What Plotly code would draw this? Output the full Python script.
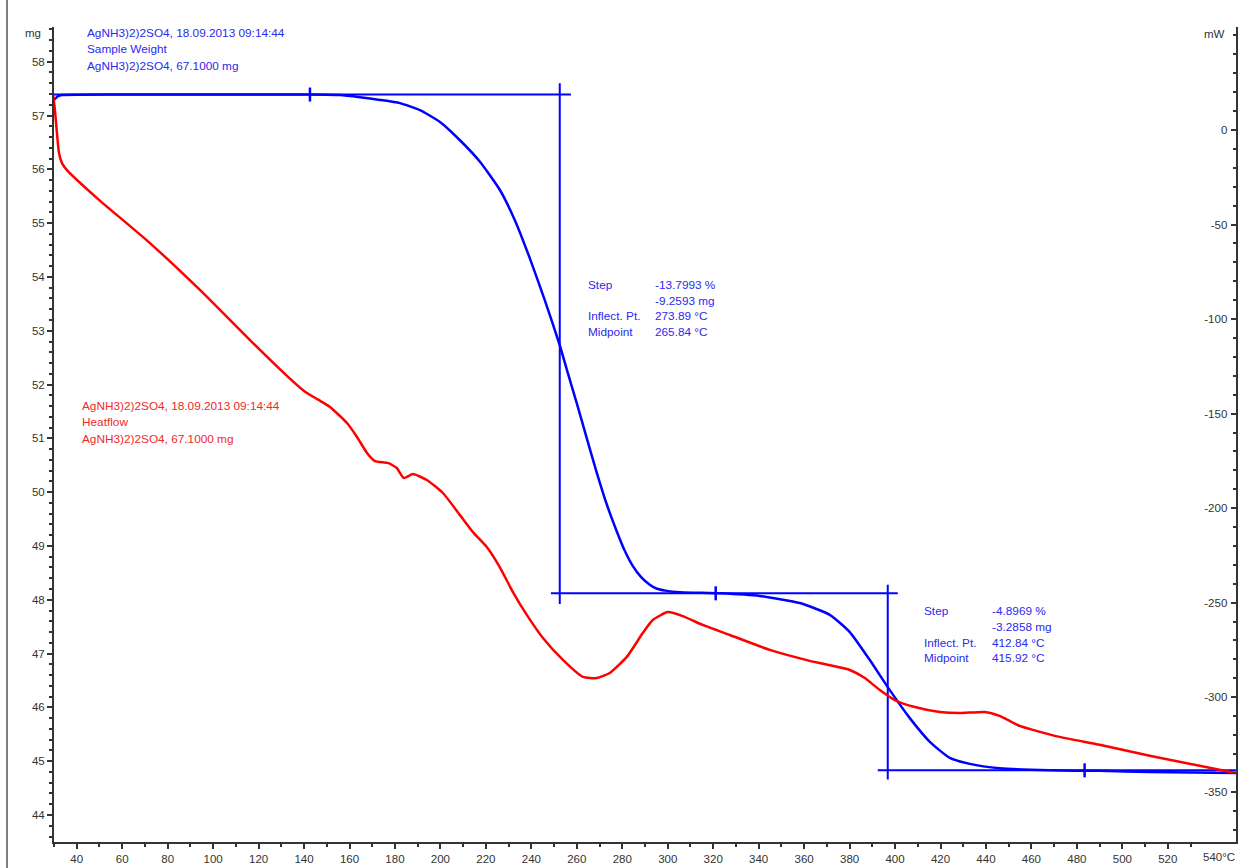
import plotly.graph_objects as go

# ---------------- data ----------------
# Sample weight (TGA), mg vs temperature °C
tg_temp = [30.0, 31.8, 33.5, 60, 100, 142.6, 155.8, 164.6, 173.4, 182.2, 191.0, 199.8, 208.6,
           217.4, 226.1, 232.7, 239.3, 245.9, 252.5, 256.0, 260.0, 264.4, 268.8, 273.2, 277.6,
           281.0, 284.6, 288.3, 292.1, 295.0, 299.0, 305.3, 322.9, 340.5, 358.1, 371.3, 380.1,
           388.9, 397.7, 406.5, 415.3, 424.1, 432.9, 446.0, 468.0, 490.0, 512.0, 549.8]
tg_mass = [57.29, 57.36, 57.38, 57.39, 57.39, 57.39, 57.38, 57.34, 57.29, 57.23, 57.10, 56.88, 56.54,
           56.14, 55.62, 55.06, 54.35, 53.57, 52.73, 52.22, 51.65, 51.00, 50.36, 49.77, 49.27,
           48.92, 48.63, 48.42, 48.28, 48.21, 48.17, 48.14, 48.12, 48.07, 47.94, 47.72, 47.40,
           46.88, 46.32, 45.80, 45.36, 45.06, 44.95, 44.87, 44.83, 44.82, 44.80, 44.78]

# Heat flow (DSC), mW vs temperature °C
hf_temp = [29.6, 30.4, 31.3, 32.2, 33.5, 35.7, 48.9, 72.2, 94.2, 116.2, 132.0, 140.0, 146.0, 151.4, 158.9,
           163.3, 167.7, 171.2, 176.9, 180.8, 183.9, 187.9, 194.0, 201.1, 208.6, 214.3,
           220.4, 226.1, 231.9, 238.0, 245.1, 253.9, 262.7, 268.8, 274.5, 282.0, 289.0,
           293.4, 300.0, 306.6, 315.4, 327.3, 344.9, 362.5, 380.1, 386.7, 393.3, 399.9,
           408.7, 419.7, 428.5, 439.4, 446.0, 454.8, 472.4, 490.0, 512.0, 534.0, 549.8]
hf_mw = [18.5, 10.6, -1.6, -12.2, -17.5, -21.2, -36.0, -59.8, -84.6, -111.1, -129.5, -138.0, -142.5, -146.5, -155.0,
         -162.4, -170.8, -175.1, -176.1, -178.8, -184.1, -182.0, -185.1, -192.0, -203.7, -212.7,
         -220.6, -231.2, -244.4, -256.5, -268.7, -280.3, -289.3, -289.9, -287.2, -278.7, -266.1,
         -259.2, -255.0, -257.1, -261.8, -267.1, -275.0, -280.8, -285.6, -289.9, -296.2, -301.5,
         -305.2, -307.8, -308.4, -307.8, -309.9, -315.2, -321.0, -325.2, -331.0, -336.3, -340.1]

# Step evaluation (levels in mg, positions in °C)
step_levels = [57.39, 48.12, 44.83]
step_pos = [252.5, 396.8]
step_hline_from = [30.0, 248.6, 392.4]
step_hline_to = [257.4, 401.2, 550.0]
step_vline_top = [57.60, 48.28]
step_vline_bottom = [47.92, 44.66]
marker_temps = [142.6, 321.1, 483.4]

step1_labels = ["Step", "", "Inflect. Pt.", "Midpoint"]
step1_values = ["-13.7993 %", "-9.2593 mg", "273.89 °C", "265.84 °C"]
step2_labels = ["Step", "", "Inflect. Pt.", "Midpoint"]
step2_values = ["-4.8969 %", "-3.2858 mg", "412.84 °C", "415.92 °C"]

blue_header = ["AgNH3)2)2SO4, 18.09.2013 09:14:44", "Sample Weight", "AgNH3)2)2SO4, 67.1000 mg"]
red_header = ["AgNH3)2)2SO4, 18.09.2013 09:14:44", "Heatflow", "AgNH3)2)2SO4, 67.1000 mg"]

x_tickvals = list(range(40, 541, 20))
x_ticktext = [str(v) for v in x_tickvals[:-1]] + [""]
x_last_label = "540°C"
left_tickvals = list(range(44, 59))
right_tickvals = [0, -50, -100, -150, -200, -250, -300, -350]
right_ticktext = [str(v) for v in right_tickvals]

BLUE = "#0000FF"
RED = "#FF0000"
TXT_BLUE = "#2A2AF0"
TXT_RED = "#F02A2A"
FONT = "Liberation Sans"
TXT_SIZE = 11.8

# ---------------- layout geometry (pixels) ----------------
W, H = 1248, 868
L, R, T, B = 54, 12, 27, 26
PW, PH = W - L - R, H - T - B


def px(x):
    return (x - L) / PW


def py(y):
    return (H - B - y) / PH


fig = go.Figure()

fig.add_trace(go.Scatter(x=hf_temp, y=hf_mw, mode="lines", yaxis="y2",
                         line=dict(color=RED, width=2.5, shape="spline", smoothing=0.5),
                         hoverinfo="skip", showlegend=False))
fig.add_trace(go.Scatter(x=tg_temp, y=tg_mass, mode="lines",
                         line=dict(color=BLUE, width=2.5, shape="spline", smoothing=0.5),
                         hoverinfo="skip", showlegend=False))

for lvl, a, b in zip(step_levels, step_hline_from, step_hline_to):
    fig.add_trace(go.Scatter(x=[a, b], y=[lvl, lvl], mode="lines",
                             line=dict(color=BLUE, width=2), hoverinfo="skip", showlegend=False))
for xp, top, bot in zip(step_pos, step_vline_top, step_vline_bottom):
    fig.add_trace(go.Scatter(x=[xp, xp], y=[top, bot], mode="lines",
                             line=dict(color=BLUE, width=2), hoverinfo="skip", showlegend=False))
fig.add_trace(go.Scatter(x=marker_temps, y=step_levels, mode="markers",
                         marker=dict(symbol="line-ns-open", size=10, color=BLUE,
                                     line=dict(color=BLUE, width=2.5)),
                         hoverinfo="skip", showlegend=False))

anns = []


def add_text(x, y, text, color, anchor="left", size=TXT_SIZE):
    anns.append(dict(x=px(x), y=py(y), xref="paper", yref="paper", text=text,
                     showarrow=False, xanchor=anchor, yanchor="middle",
                     font=dict(family=FONT, size=size, color=color)))


for i, t in enumerate(blue_header):
    add_text(85, [33, 49, 66][i], t, TXT_BLUE)
for i, t in enumerate(red_header):
    add_text(80, [406, 422, 439][i], t, TXT_RED)
for i, (lab, val) in enumerate(zip(step1_labels, step1_values)):
    yy = [285, 301, 316, 332][i]
    if lab:
        add_text(586, yy, lab, TXT_BLUE)
    add_text(653, yy, val, TXT_BLUE)
for i, (lab, val) in enumerate(zip(step2_labels, step2_values)):
    yy = [611, 627, 643, 658][i]
    if lab:
        add_text(922, yy, lab, TXT_BLUE)
    add_text(990, yy, val, TXT_BLUE)

add_text(33, 33, "mg", "#333333", anchor="center", size=11.5)
add_text(1214, 34, "mW", "#333333", anchor="center", size=11.5)
# last x tick label (plotly hides it next to the inside right-axis labels)
anns.append(dict(x=x_tickvals[-1], y=py(857), xref="x", yref="paper", text=x_last_label,
                 showarrow=False, xanchor="center", xshift=6, yanchor="middle",
                 font=dict(family=FONT, size=11.5, color="#333333")))

axis_font = dict(family=FONT, size=11.5, color="#333333")

fig.update_layout(
    width=W, height=H,
    margin=dict(l=L, r=R, t=T, b=B, pad=0, autoexpand=False),
    paper_bgcolor="white", plot_bgcolor="white",
    showlegend=False,
    annotations=anns,
    shapes=[dict(type="line", xref="paper", yref="paper", x0=px(7), x1=px(7),
                 y0=py(0), y1=py(H), line=dict(color="#555555", width=1.5))],
    xaxis=dict(range=[30, 550], tickvals=x_tickvals, ticktext=x_ticktext, automargin=False,
               showgrid=False, zeroline=False, showline=True, linecolor="#333333",
               linewidth=2, ticks="outside", ticklen=5, tickwidth=1.5, tickcolor="#333333",
               tickfont=axis_font,
               minor=dict(tick0=30, dtick=10, ticks="outside", ticklen=3, tickcolor="#333333",
                          showgrid=False)),
    yaxis=dict(range=[43.498, 58.645], tickvals=left_tickvals, automargin=False,
               showgrid=False, zeroline=False, showline=True, linecolor="#333333",
               linewidth=2, ticks="outside", ticklen=5, tickwidth=1.5, tickcolor="#333333",
               tickfont=axis_font,
               minor=dict(tick0=44, dtick=0.2, ticks="outside", ticklen=3, tickcolor="#333333",
                          showgrid=False)),
    yaxis2=dict(range=[-376.6, 54.48], tickvals=right_tickvals, ticktext=right_ticktext,
                overlaying="y", side="right", automargin=False,
                showgrid=False, zeroline=False, showline=True, linecolor="#333333",
                linewidth=2, ticks="inside", ticklabelposition="inside", ticklen=5,
                ticklabelstandoff=3,
                tickwidth=1.5, tickcolor="#333333", tickfont=axis_font,
                minor=dict(tick0=0, dtick=10, ticks="inside", ticklen=3, tickcolor="#333333",
                           showgrid=False)),
)

fig.write_html("out.html", config={"displayModeBar": False},
               post_script="document.body.style.margin='0px';"
                           "document.body.style.overflow='hidden';")
